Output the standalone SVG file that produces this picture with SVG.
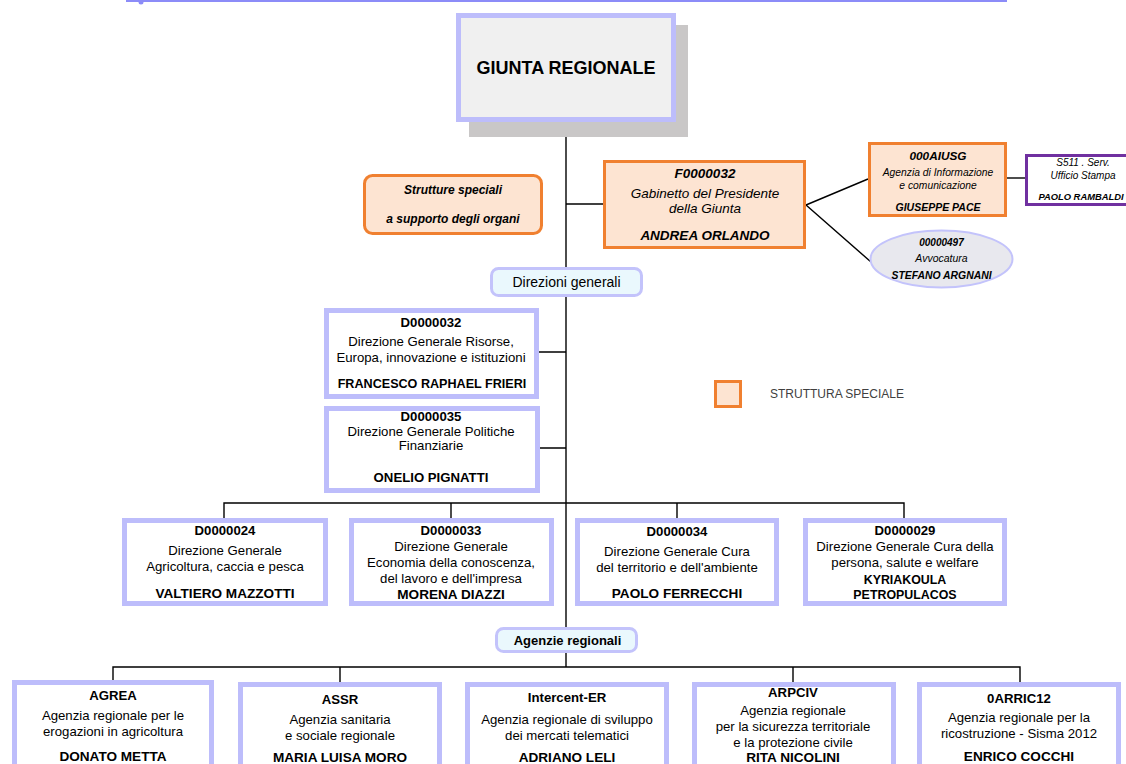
<svg xmlns="http://www.w3.org/2000/svg" width="1126" height="764" viewBox="0 0 1126 764">
<style>
text{font-family:"Liberation Sans",Arial,sans-serif;font-size:13.2px;fill:#000;text-anchor:middle}
.b{font-weight:bold}
.i{font-style:italic}
.bi{font-weight:bold;font-style:italic}
.box{fill:#fff;stroke:#bdbdfb;stroke-width:5}
.sp{fill:#fde4d2;stroke:#f08030;stroke-width:3}
.pill{fill:#eaf8fd;stroke:#c3c3fb;stroke-width:3}
.ln{stroke:#000;stroke-width:1.4;fill:none}
</style>
<line x1="126" y1="1" x2="1007" y2="1" stroke="#8c8cf8" stroke-width="2"/>
<circle cx="141" cy="2" r="2.5" fill="#8c8cf8"/>
<g id="connectors">
<path class="ln" d="M566 122V667"/>
<path class="ln" d="M566 204H603"/>
<path class="ln" d="M538 352H566M539 448H566"/>
<path class="ln" d="M224 518V503H904V518M451 503V518M677 503V518"/>
<path class="ln" d="M113 680V667H1020V682M340 667V682M793 667V682"/>
<path class="ln" d="M806 205L868 179M806 205L871 262"/>
<path class="ln" d="M1007 178H1025"/>
</g>
<g id="giunta">
<rect x="469" y="25" width="219" height="112" fill="#c9c7c7"/>
<rect x="458.5" y="15.5" width="215" height="104" fill="#f0f0f0" stroke="#bdbdfb" stroke-width="5"/>
<text x="566" y="74" class="b" style="font-size:18px">GIUNTA REGIONALE</text>
</g>
<g id="strutture">
<rect x="364.5" y="175.5" width="177" height="58" rx="8" class="sp"/>
<text x="453" y="194" class="bi" style="font-size:12px">Strutture speciali</text>
<text x="453" y="223" class="bi" style="font-size:12px">a supporto degli organi</text>
</g>
<g id="f0000032">
<rect x="604.5" y="161.5" width="200" height="86" class="sp"/>
<text x="705" y="178" class="bi" style="font-size:13.5px">F0000032</text>
<text x="705" y="198" class="i" style="font-size:13.5px">Gabinetto del Presidente</text>
<text x="705" y="213" class="i" style="font-size:13.5px">della Giunta</text>
<text x="705" y="240" class="bi" style="font-size:13.5px">ANDREA ORLANDO</text>
</g>
<g id="aiusg">
<rect x="869.5" y="143.5" width="136" height="72" class="sp"/>
<text x="938" y="160" class="bi" style="font-size:11.8px">000AIUSG</text>
<text x="938" y="176" class="i" style="font-size:10.3px">Agenzia di Informazione</text>
<text x="938" y="189" class="i" style="font-size:10.3px">e comunicazione</text>
<text x="938" y="211" class="bi" style="font-size:10.5px">GIUSEPPE PACE</text>
</g>
<g id="s511">
<rect x="1026.5" y="155.5" width="110" height="49" fill="#fff" stroke="#7030a0" stroke-width="3"/>
<text x="1083" y="166" class="i" style="font-size:10px">S511 . Serv.</text>
<text x="1083" y="179" class="i" style="font-size:10px">Ufficio Stampa</text>
<text x="1081" y="200" class="bi" style="font-size:9.4px">PAOLO RAMBALDI</text>
</g>
<g id="avvocatura">
<ellipse cx="941.5" cy="259" rx="71" ry="28.5" fill="#e8e8ee" stroke="#c3c3fb" stroke-width="2"/>
<text x="941.5" y="246" class="bi" style="font-size:10px">00000497</text>
<text x="941.5" y="262" class="i" style="font-size:10.5px">Avvocatura</text>
<text x="941.5" y="279" class="bi" style="font-size:10.4px">STEFANO ARGNANI</text>
</g>
<g id="direzioni">
<rect x="491.5" y="268.5" width="150" height="27" rx="7" class="pill"/>
<text x="566.5" y="287" style="font-size:14px">Direzioni generali</text>
</g>
<g id="legend">
<rect x="715.5" y="381.5" width="25" height="25" class="sp"/>
<text x="770" y="398" style="font-size:12px;fill:#404040;text-anchor:start">STRUTTURA SPECIALE</text>
</g>
<g id="d0000032">
<rect x="326.5" y="310.5" width="210" height="86" class="box"/>
<text x="431" y="327" class="b">D0000032</text>
<text x="431" y="346">Direzione Generale Risorse,</text>
<text x="431" y="362">Europa, innovazione e istituzioni</text>
<text x="432" y="388" class="b" style="font-size:12.6px">FRANCESCO RAPHAEL FRIERI</text>
</g>
<g id="d0000035">
<rect x="326.5" y="408.5" width="211" height="82" class="box"/>
<text x="431" y="421" class="b">D0000035</text>
<text x="431" y="436">Direzione Generale Politiche</text>
<text x="431" y="450">Finanziarie</text>
<text x="431" y="482" class="b">ONELIO PIGNATTI</text>
</g>
<g id="d0000024">
<rect x="124.5" y="520.5" width="201" height="83" class="box"/>
<text x="225" y="535" class="b">D0000024</text>
<text x="225" y="555">Direzione Generale</text>
<text x="225" y="571">Agricoltura, caccia e pesca</text>
<text x="225" y="598" class="b" style="font-size:13.6px">VALTIERO MAZZOTTI</text>
</g>
<g id="d0000033">
<rect x="351.5" y="520.5" width="200" height="83" class="box"/>
<text x="451" y="535" class="b">D0000033</text>
<text x="451" y="551">Direzione Generale</text>
<text x="451" y="567">Economia della conoscenza,</text>
<text x="451" y="583">del lavoro e dell'impresa</text>
<text x="451" y="599" class="b" style="font-size:13.6px">MORENA DIAZZI</text>
</g>
<g id="d0000034">
<rect x="577.5" y="520.5" width="199" height="83" class="box"/>
<text x="677" y="536" class="b">D0000034</text>
<text x="677" y="556">Direzione Generale Cura</text>
<text x="677" y="572">del territorio e dell'ambiente</text>
<text x="677" y="598" class="b" style="font-size:13.6px">PAOLO FERRECCHI</text>
</g>
<g id="d0000029">
<rect x="805.5" y="520.5" width="199" height="83" class="box"/>
<text x="905" y="535" class="b">D0000029</text>
<text x="905" y="551">Direzione Generale Cura della</text>
<text x="905" y="567">persona, salute e welfare</text>
<text x="905" y="584" class="b" style="font-size:12.4px">KYRIAKOULA</text>
<text x="905" y="599" class="b" style="font-size:12.4px">PETROPULACOS</text>
</g>
<g id="agenzie">
<rect x="496.5" y="628.5" width="140" height="23" rx="7" class="pill"/>
<text x="567.5" y="645" class="b" style="font-size:13px">Agenzie regionali</text>
</g>
<g id="agrea">
<rect x="14.5" y="682.5" width="197" height="90" class="box"/>
<text x="113" y="700" class="b">AGREA</text>
<text x="113" y="720">Agenzia regionale per le</text>
<text x="113" y="736">erogazioni in agricoltura</text>
<text x="113" y="761" class="b" style="font-size:13.6px">DONATO METTA</text>
</g>
<g id="assr">
<rect x="240.5" y="684.5" width="199" height="90" class="box"/>
<text x="340" y="704" class="b">ASSR</text>
<text x="340" y="724">Agenzia sanitaria</text>
<text x="340" y="740">e sociale regionale</text>
<text x="340" y="762" class="b" style="font-size:13.6px">MARIA LUISA MORO</text>
</g>
<g id="intercent">
<rect x="467.5" y="684.5" width="199" height="90" class="box"/>
<text x="567" y="702" class="b">Intercent-ER</text>
<text x="567" y="724">Agenzia regionale di sviluppo</text>
<text x="567" y="740">dei mercati telematici</text>
<text x="567" y="762" class="b" style="font-size:13.6px">ADRIANO LELI</text>
</g>
<g id="arpciv">
<rect x="694.5" y="684.5" width="199" height="90" class="box"/>
<text x="793" y="697" class="b">ARPCIV</text>
<text x="793" y="715">Agenzia regionale</text>
<text x="793" y="731">per la sicurezza territoriale</text>
<text x="793" y="747">e la protezione civile</text>
<text x="793" y="762" class="b" style="font-size:13.6px">RITA NICOLINI</text>
</g>
<g id="arric12">
<rect x="919.5" y="684.5" width="199" height="90" class="box"/>
<text x="1019" y="703" class="b">0ARRIC12</text>
<text x="1019" y="722">Agenzia regionale per la</text>
<text x="1019" y="738">ricostruzione - Sisma 2012</text>
<text x="1019" y="761" class="b" style="font-size:13.6px">ENRICO COCCHI</text>
</g>
</svg>
